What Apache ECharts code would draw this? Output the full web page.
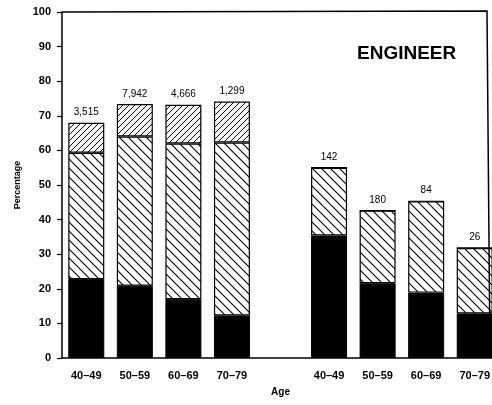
<!DOCTYPE html>
<html>
<head>
<meta charset="utf-8">
<script src="https://cdn.jsdelivr.net/npm/echarts@6/dist/echarts.min.js"></script>
<style>html,body{margin:0;padding:0;background:#fff}#c{width:492px;height:405px}</style>
</head>
<body>
<div id="c"></div>
<script>
const categories = ['40–49','50–59','60–69','70–79','','40–49','50–59','60–69','70–79'];
const blackSeg = [22.8, 20.9, 17.0, 12.3, null, 35.4, 21.6, 18.9, 12.9];
const lightSeg = [36.5, 43.1, 45.0, 50.0, null, 19.6, 21.0, 26.4, 18.9];
const denseSeg = [8.7, 9.4, 11.2, 11.8, null, 0, 0, 0, 0];
const counts = ['3,515','7,942','4,666','1,299','','142','180','84','26'];
const yTicks = [0,10,20,30,40,50,60,70,80,90,100];

function hatch(size, dir, lw) {
  const c = document.createElement('canvas');
  c.width = size; c.height = size;
  const g = c.getContext('2d');
  g.fillStyle = '#fff'; g.fillRect(0,0,size,size);
  g.strokeStyle = '#000'; g.lineWidth = lw; g.beginPath();
  if (dir === 'back') {
    g.moveTo(-2,-2); g.lineTo(size+2,size+2);
    g.moveTo(-2,size-2); g.lineTo(2,size+2);
    g.moveTo(size-2,-2); g.lineTo(size+2,2);
  } else {
    g.moveTo(-2,size+2); g.lineTo(size+2,-2);
    g.moveTo(-2,2); g.lineTo(2,-2);
    g.moveTo(size-2,size+2); g.lineTo(size+2,size-2);
  }
  g.stroke();
  return c;
}
const lightPat = {image: hatch(9,'back',1.1), repeat:'repeat'};
const densePat = {image: hatch(6,'fwd',1.0), repeat:'repeat'};

const chart = echarts.init(document.getElementById('c'), null, {renderer:'canvas'});
const font = 'Arial, "Liberation Sans", sans-serif';
const barStyle = {borderColor:'#000', borderWidth:1.2};
chart.setOption({
  animation:false,
  backgroundColor:'#fff',
  title:{text:'ENGINEER', left:352, top:39, textStyle:{fontFamily:font, fontSize:19, fontWeight:'bold', color:'#000'}},
  grid:{left:62, top:12, width:437, bottom:47, outerBoundsMode:'none', containLabel:false},
  xAxis:{
    type:'category', data:categories,
    name:'Age', nameLocation:'middle', nameGap:29,
    nameTextStyle:{fontFamily:font, fontSize:10, fontWeight:'bold', color:'#000'},
    axisLine:{lineStyle:{color:'#000', width:1.5}},
    axisTick:{alignWithLabel:true, length:4, lineStyle:{color:'#000', width:1.2}, interval:(i,v)=>v!==''},
    axisLabel:{fontFamily:font, fontSize:11, fontWeight:'bold', color:'#000', margin:12, interval:0}
  },
  yAxis:{
    type:'value', min:0, max:100, interval:10,
    name:'Percentage', nameLocation:'middle', nameGap:38, nameRotate:90,
    nameTextStyle:{fontFamily:font, fontSize:9, fontWeight:'bold', color:'#000'},
    axisLine:{show:true, lineStyle:{color:'#000', width:1.5}},
    axisTick:{show:true, length:5, lineStyle:{color:'#000', width:1.2}},
    splitLine:{show:false},
    axisLabel:{fontFamily:font, fontSize:11, fontWeight:'bold', color:'#000', margin:11,
      formatter:(v)=> yTicks.includes(v) ? String(v) : ''}
  },
  series:[
    {type:'bar', stack:'s', data:blackSeg, barWidth:36, itemStyle:{color:'#000', borderColor:'#000', borderWidth:1}},
    {type:'bar', stack:'s', data:lightSeg, barWidth:36, itemStyle:Object.assign({color:lightPat}, barStyle)},
    {type:'bar', stack:'s', data:denseSeg, barWidth:36, itemStyle:Object.assign({color:densePat}, barStyle),
      label:{show:true, position:'top', distance:5, fontFamily:font, fontSize:10, color:'#000',
        formatter:(p)=>counts[p.dataIndex]}}
  ]
});
const yTop = chart.convertToPixel({yAxisIndex:0}, 100);
const yBot = chart.convertToPixel({yAxisIndex:0}, 0);
chart.setOption({graphic:[{type:'polyline', shape:{points:[[62, yTop],[487, yTop-1],[490, yBot]]}, style:{stroke:'#000', lineWidth:1.5, fill:null}, z:10}]});
</script>
</body>
</html>
